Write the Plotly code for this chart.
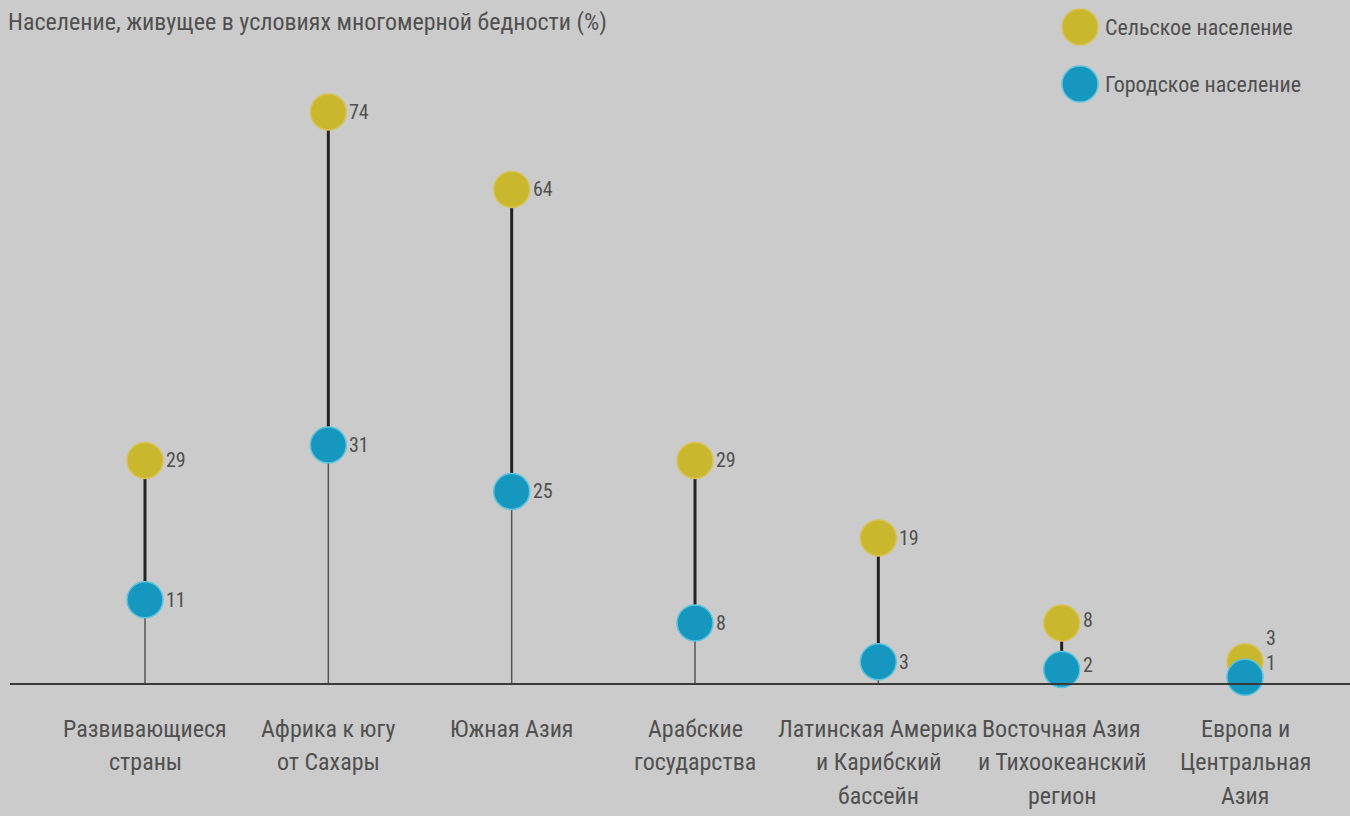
import plotly.graph_objects as go

categories = [
    "Развивающиеся<br>страны",
    "Африка к югу<br>от Сахары",
    "Южная Азия",
    "Арабские<br>государства",
    "Латинская Америка<br>и Карибский<br>бассейн",
    "Восточная Азия<br>и Тихоокеанский<br>регион",
    "Европа и<br>Центральная<br>Азия",
]
rural = [29, 74, 64, 29, 19, 8, 3]
urban = [11, 31, 25, 8, 3, 2, 1]
rural_name = "Сельское население"
urban_name = "Городское население"
title_text = "Население, живущее в условиях многомерной бедности (%)"

FONT = "Liberation Sans Narrow, Roboto Condensed, Arial Narrow, Roboto, sans-serif"
BG = "#cbcbcb"
RURAL_C = "#c9b82e"
URBAN_C = "#1697bf"
TXT = "#505050"

W, H = 1350, 816
TOP, BOTTOM_PX = 40, 685
xs = list(range(len(categories)))

fig = go.Figure()

# thin stems from 0 to urban value
sx, sy = [], []
for i, u in enumerate(urban):
    sx += [i, i, None]
    sy += [0, u, None]
fig.add_trace(go.Scatter(x=sx, y=sy, mode="lines", line=dict(color="#555555", width=1.5),
                         hoverinfo="skip", showlegend=False))

# thick stems between urban and rural
tx, ty = [], []
for i, (u, r) in enumerate(zip(urban, rural)):
    tx += [i, i, None]
    ty += [u, r, None]
fig.add_trace(go.Scatter(x=tx, y=ty, mode="lines", line=dict(color="#222222", width=3),
                         hoverinfo="skip", showlegend=False))

fig.add_trace(go.Scatter(
    x=xs, y=rural, mode="markers", name=rural_name,
    marker=dict(size=36, color=RURAL_C, line=dict(color="#d9c25a", width=1.5)),
    showlegend=False, cliponaxis=False, hoverinfo="x+y"))
fig.add_trace(go.Scatter(
    x=xs, y=urban, mode="markers", name=urban_name,
    marker=dict(size=36, color=URBAN_C, line=dict(color="#5fc3dc", width=1.5)),
    showlegend=False, cliponaxis=False, hoverinfo="x+y"))

plot_h = BOTTOM_PX - TOP
ymax = max(rural) * (BOTTOM_PX - TOP) / (BOTTOM_PX - 112)

def py(p):
    return (BOTTOM_PX - p) / plot_h

annotations = []

# value labels (small vertical nudges for the crowded last groups)
rural_dy = [0, 0, 0, 0, 0, 3, 24]
urban_dy = [0, 0, 0, 0, 0, 5, 14]
for vals, dys in [(rural, rural_dy), (urban, urban_dy)]:
    for i, (v, dy) in enumerate(zip(vals, dys)):
        annotations.append(dict(x=i, y=v, xref="x", yref="y", text=str(v), showarrow=False,
                                xanchor="left", yanchor="middle", xshift=19, yshift=dy,
                                font=dict(family=FONT, size=20, color=TXT)))

# category labels
line_px = [729, 762, 796]
for i, lab in enumerate(categories):
    for j, ln in enumerate(lab.split("<br>")):
        annotations.append(dict(x=i, xref="x", y=py(line_px[j]), yref="paper",
                                text=ln, showarrow=False, xanchor="center", yanchor="middle",
                                font=dict(family=FONT, size=24, color=TXT)))

annotations.append(dict(x=6 / W, xref="paper", y=py(22), yref="paper",
                        text=title_text, showarrow=False, xanchor="left", yanchor="middle",
                        font=dict(family=FONT, size=24, color=TXT)))

shapes = [dict(type="line", xref="paper", yref="y", x0=10 / W, x1=1, y0=0, y1=0,
               line=dict(color="#3a3a3a", width=4))]

# legend drawn manually
for name, c, lc, p in [(rural_name, RURAL_C, "#d9c25a", 27), (urban_name, URBAN_C, "#5fc3dc", 84)]:
    shapes.append(dict(type="circle", xref="paper", yref="paper", xsizemode="pixel", ysizemode="pixel",
                       xanchor=1080 / W, yanchor=py(p), x0=-18, x1=18, y0=-18, y1=18,
                       fillcolor=c, line=dict(color=lc, width=1.5)))
    annotations.append(dict(x=1103 / W, xref="paper", y=py(p), yref="paper", text=name,
                            showarrow=False, xanchor="left", yanchor="middle",
                            font=dict(family=FONT, size=22, color=TXT)))

x0 = -145 / 183.33
x1 = 6 + (W - 1245) / 183.33

fig.update_layout(
    width=W, height=H,
    margin=dict(l=0, r=0, t=TOP, b=H - BOTTOM_PX),
    paper_bgcolor=BG, plot_bgcolor=BG,
    xaxis=dict(range=[x0, x1], showgrid=False, zeroline=False, showticklabels=False, showline=False),
    yaxis=dict(range=[0, ymax], showgrid=False, zeroline=False, showticklabels=False, showline=False),
    annotations=annotations, shapes=shapes, showlegend=False,
)

fig.write_html("out.html", config={"displayModeBar": False},
               post_script="document.body.style.margin='0';document.body.style.overflow='hidden';")
